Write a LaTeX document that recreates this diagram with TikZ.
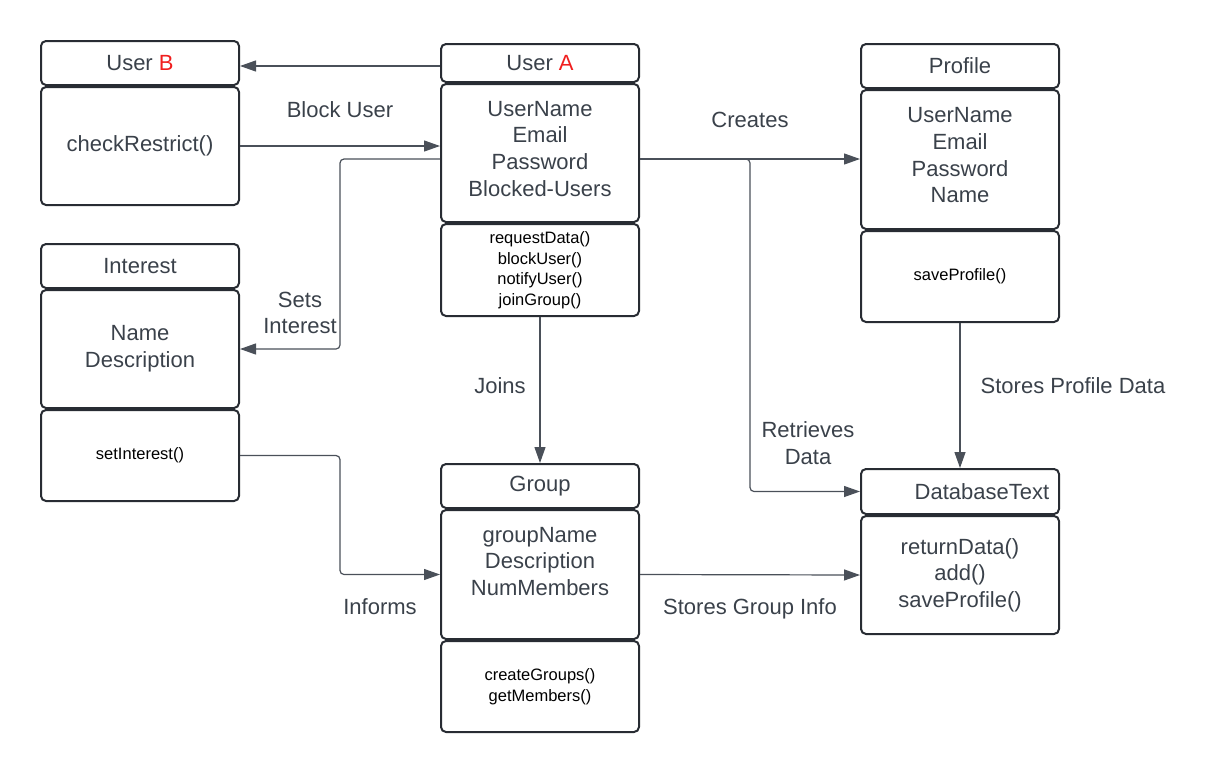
\documentclass[tikz,border=0pt]{standalone}
\usepackage{fontspec}
\setmainfont{Liberation Sans}
\usetikzlibrary{arrows.meta,positioning}
\definecolor{boxline}{HTML}{282C33}
\definecolor{txtgray}{HTML}{3A414A}
\definecolor{lnk}{HTML}{4A5059}
\definecolor{hilite}{HTML}{F01E1E}
\begin{document}
\begin{tikzpicture}[x=1pt, y=-1pt,
    part/.style={draw=boxline, line width=2pt, rounded corners=5pt, minimum width=198pt,
      anchor=north west, align=center, inner sep=0pt, text=txtgray,
      font=\fontsize{22}{26.7}\selectfont},
    meth/.style={part, text=black, font=\fontsize{16.5}{20.5}\selectfont},
    conn/.style={draw=lnk, line width=1.2pt, rounded corners=4pt,
      -{Triangle[length=16pt,width=11pt]}},
    lbl/.style={text=txtgray, align=center, font=\fontsize{22}{26.7}\selectfont}]

    \useasboundingbox (0,0) rectangle (1207,774);

    % 1. 类框：User B
    \node[part, minimum height=44pt] (ubHead) at (40,40) {User \textcolor{hilite}{B}};
    \node[part, minimum height=118pt] (ubAttr) at (ubHead.south west) {checkRestrict()};

    % 2. 类框：User A
    \node[part, minimum height=38pt] (uaHead) at (440,43) {User \textcolor{hilite}{A}};
    \node[part, minimum height=138pt] (uaAttr) at (uaHead.south west) {UserName\\Email\\Password\\Blocked-Users\\[-18pt]};
    \node[meth, minimum height=92pt] (uaMeth) at (uaAttr.south west) {requestData()\\blockUser()\\notifyUser()\\joinGroup()};

    % 3. 类框：Profile
    \node[part, minimum height=44pt] (prHead) at (860,43) {Profile};
    \node[part, minimum height=139pt] (prAttr) at (prHead.south west) {UserName\\Email\\Password\\Name\\[-18pt]};
    \node[meth, minimum height=91pt] (prMeth) at (prAttr.south west) {saveProfile()};

    % 4. 类框：Interest
    \node[part, minimum height=44pt] (inHead) at (40,243) {Interest};
    \node[part, minimum height=118pt] (inAttr) at (inHead.south west) {Name\\Description};
    \node[meth, minimum height=91pt] (inMeth) at (inAttr.south west) {setInterest()};

    % 5. 类框：Group
    \node[part, minimum height=44pt] (grHead) at (440,463) {Group};
    \node[part, minimum height=129pt] (grAttr) at (grHead.south west) {groupName\\Description\\NumMembers\\[0pt]};
    \node[meth, minimum height=91pt] (grMeth) at (grAttr.south west) {createGroups()\\getMembers()};

    % 6. 类框：DatabaseText
    \node[part, minimum height=45pt] (dbHead) at (860,468) {\hspace{44pt}DatabaseText};
    \node[part, minimum height=118pt] (dbAttr) at (dbHead.south west) {returnData()\\add()\\saveProfile()};

    % 7. 连线
    \draw[conn] ([yshift=-3pt]uaHead.west) -- ([yshift=-3pt]uaHead.west -| ubHead.east);
    \draw[conn] (ubAttr.east) -- (ubAttr.east -| uaAttr.west);
    \draw[conn] ([yshift=-6pt]uaAttr.west) -- ++(-100,0) |- (inAttr.east);
    \draw[conn] ([yshift=-6pt]uaAttr.east) -- ([yshift=-6pt]uaAttr.east -| prAttr.west);
    \draw[conn] ([yshift=-6pt]uaAttr.east) -- ++(110,0) |- (dbHead.west);
    \draw[conn] (uaMeth.south) -- (grHead.north);
    \draw[conn] (prMeth.south) -- (dbHead.north);
    \draw[conn] (inMeth.east) -- ++(100,0) |- (grAttr.west);
    \draw[conn] (grAttr.east) -- (dbAttr.west);

    % 8. 连线标签
    \node[lbl] (blockLbl) at (340,110) {Block User};
    \node[lbl] (setsLbl) at (300,313) {Sets\\Interest};
    \node[lbl] (createsLbl) at (750,120) {Creates};
    \node[lbl] (retrLbl) at (808,443) {Retrieves\\Data};
    \node[lbl] (joinsLbl) at (500,386) {Joins};
    \node[lbl] (storesPrLbl) at (1073,386) {Stores Profile Data};
    \node[lbl] (informsLbl) at (380,607) {Informs};
    \node[lbl] (storesGrLbl) at (750,609) {Stores Group Info};

\end{tikzpicture}
\end{document}
